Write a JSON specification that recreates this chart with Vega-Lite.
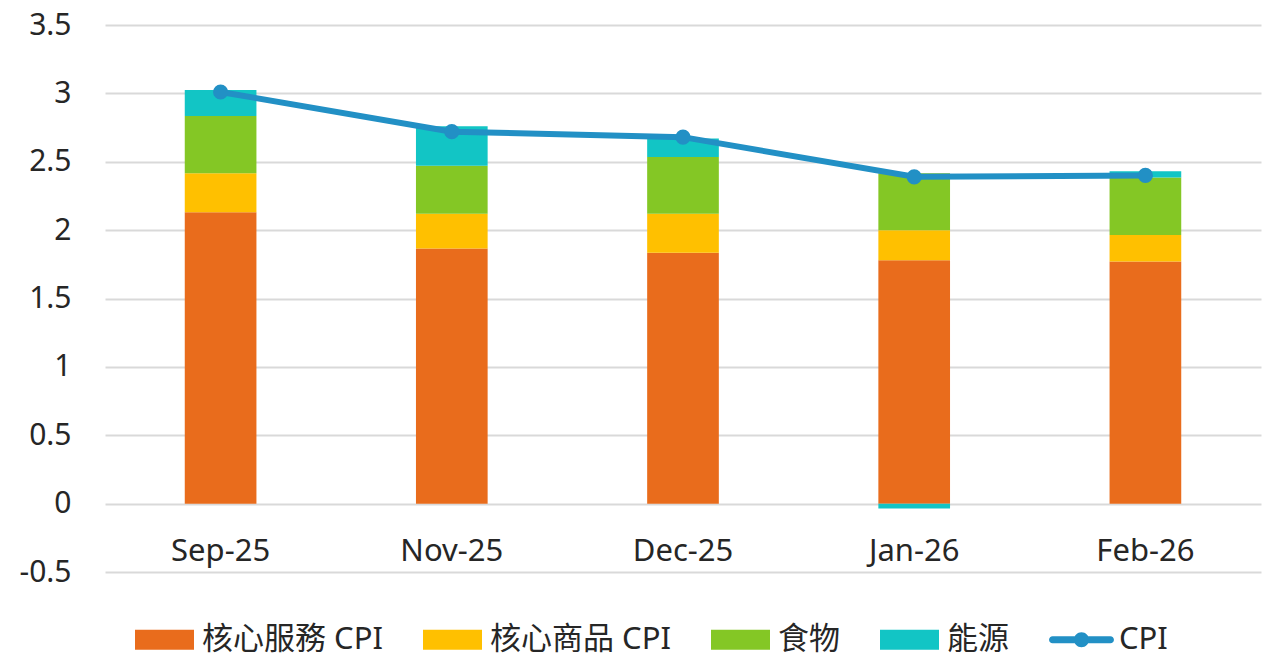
{
  "$schema": "https://vega.github.io/schema/vega-lite/v6.json",
  "width": 1156,
  "height": 547,
  "autosize": "none",
  "padding": {"left": 105, "top": 25, "right": 10, "bottom": 89},
  "background": "white",
  "config": {"view": {"stroke": null}, "font": "Noto Sans, Noto Sans CJK TC"},
  "data": {"values": [
    {"month": "Sep-25", "series": "核心服務 CPI", "value": 2.13},
    {"month": "Sep-25", "series": "核心商品 CPI", "value": 0.285},
    {"month": "Sep-25", "series": "食物", "value": 0.42},
    {"month": "Sep-25", "series": "能源", "value": 0.19},
    {"month": "Sep-25", "series": "CPI", "value": 3.01},
    {"month": "Nov-25", "series": "核心服務 CPI", "value": 1.865},
    {"month": "Nov-25", "series": "核心商品 CPI", "value": 0.255},
    {"month": "Nov-25", "series": "食物", "value": 0.35},
    {"month": "Nov-25", "series": "能源", "value": 0.29},
    {"month": "Nov-25", "series": "CPI", "value": 2.72},
    {"month": "Dec-25", "series": "核心服務 CPI", "value": 1.835},
    {"month": "Dec-25", "series": "核心商品 CPI", "value": 0.285},
    {"month": "Dec-25", "series": "食物", "value": 0.415},
    {"month": "Dec-25", "series": "能源", "value": 0.135},
    {"month": "Dec-25", "series": "CPI", "value": 2.68},
    {"month": "Jan-26", "series": "核心服務 CPI", "value": 1.78},
    {"month": "Jan-26", "series": "核心商品 CPI", "value": 0.22},
    {"month": "Jan-26", "series": "食物", "value": 0.415},
    {"month": "Jan-26", "series": "能源", "value": -0.035},
    {"month": "Jan-26", "series": "CPI", "value": 2.39},
    {"month": "Feb-26", "series": "核心服務 CPI", "value": 1.77},
    {"month": "Feb-26", "series": "核心商品 CPI", "value": 0.195},
    {"month": "Feb-26", "series": "食物", "value": 0.42},
    {"month": "Feb-26", "series": "能源", "value": 0.045},
    {"month": "Feb-26", "series": "CPI", "value": 2.40}
  ]},
  "encoding": {
    "x": {
      "field": "month", "type": "nominal", "sort": null,
      "scale": {"paddingInner": 0.69, "paddingOuter": 0.345},
      "axis": {
        "title": null, "orient": "bottom", "offset": -68, "domain": false, "ticks": false, "tickSize": 0,
        "labelPadding": 32, "labelFontSize": 31, "labelColor": "#262626", "labelAngle": 0
      }
    },
    "color": {
      "field": "series", "type": "nominal",
      "scale": {
        "domain": ["核心服務 CPI", "核心商品 CPI", "食物", "能源", "CPI"],
        "range": ["#E96C1C", "#FFC000", "#84C725", "#12C5C5", "#2290C5"]
      },
      "legend": {
        "title": null, "orient": "none", "legendX": 30, "legendY": 585,
        "direction": "horizontal", "columns": 5, "padding": 0,
        "symbolSize": 3481, "labelFontSize": 31, "labelColor": "#262626",
        "labelOffset": 8, "columnPadding": 40, "labelLimit": 400,
        "encode": {
          "symbols": {
            "update": {
              "shape": {"signal": "datum.value === 'CPI' ? 'M-0.98,-0.12H0.98A0.12,0.12 0 0 1 0.98,0.12H-0.98A0.12,0.12 0 0 1 -0.98,-0.12Z M-0.255,0A0.255,0.255 0 1 1 0.255,0A0.255,0.255 0 1 1 -0.255,0Z' : 'M-1,-0.34H1V0.34H-1Z'"},
              "fill": {"scale": "color", "field": "value"},
              "stroke": {"value": "transparent"},
              "strokeWidth": {"value": 0},
              "opacity": {"value": 1},
              "fillOpacity": {"value": 1}
            }
          }
        }
      }
    }
  },
  "layer": [
    {
      "transform": [
        {"filter": "datum.series !== 'CPI'"},
        {"calculate": "indexof(['核心服務 CPI', '核心商品 CPI', '食物', '能源'], datum.series)", "as": "ord"}
      ],
      "mark": {"type": "bar"},
      "encoding": {
        "y": {
          "field": "value", "type": "quantitative", "stack": "zero",
          "scale": {"domain": [-0.5, 3.5], "nice": false, "zero": false},
          "axis": {
            "title": null, "values": [-0.5, 0, 0.5, 1, 1.5, 2, 2.5, 3, 3.5],
            "labelExpr": "'' + datum.value", "labelFontSize": 30, "labelColor": "#262626",
            "grid": true, "gridColor": "#D9D9D9", "gridWidth": 2,
            "domain": false, "ticks": false, "labelPadding": 34
          }
        },
        "order": {"field": "ord", "type": "quantitative"}
      }
    },
    {
      "transform": [{"filter": "datum.series === 'CPI'"}],
      "mark": {"type": "line", "strokeWidth": 6, "point": {"filled": true, "size": 230}},
      "encoding": {
        "y": {"field": "value", "type": "quantitative"}
      }
    }
  ]
}
